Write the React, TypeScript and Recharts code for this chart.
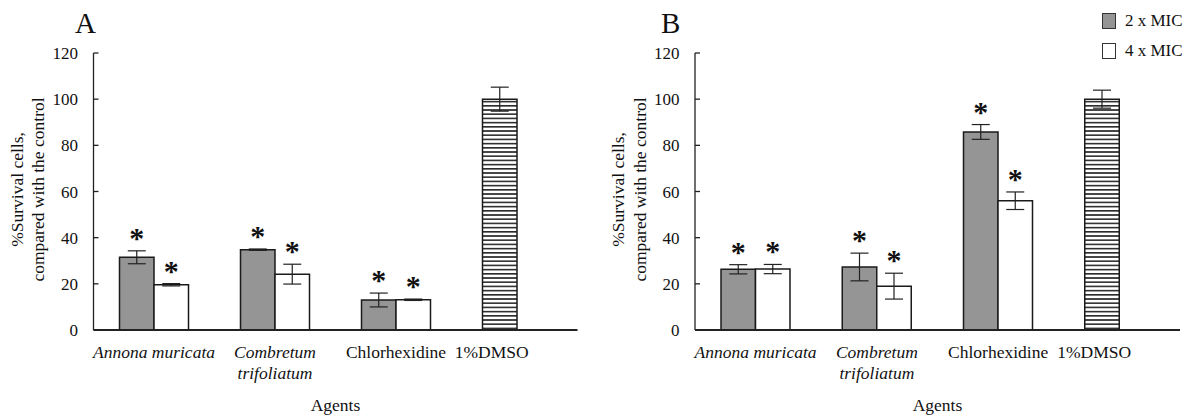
import React from 'react';
import { BarChart, Bar, XAxis, YAxis, ErrorBar, LabelList, Legend, Cell } from 'recharts';

// ---- data ----
const categories = ['Annona muricata', 'Combretum trifoliatum', 'Chlorhexidine', '1%DMSO'];
const tickLabelLines = [['Annona muricata'], ['Combretum', 'trifoliatum'], ['Chlorhexidine'], ['1%DMSO']];
const italicCategories = ['Annona muricata', 'Combretum trifoliatum'];
const yTicks = [0, 20, 40, 60, 80, 100, 120];

const seriesNames = ['2 x MIC', '4 x MIC'];

// Panel A
const aMic2 = [31.5, 34.8, 13.0, 100];
const aMic2Err = [2.8, 0.3, 3.0, 5.2];
const aMic4 = [19.6, 24.2, 13.1, null];
const aMic4Err = [0.5, 4.3, 0.3, null];

// Panel B
const bMic2 = [26.3, 27.3, 85.8, 100];
const bMic2Err = [2.0, 6.0, 3.2, 3.9];
const bMic4 = [26.4, 19.0, 56.0, null];
const bMic4Err = [2.0, 5.6, 3.8, null];

// significance markers
const mic2Sig = [true, true, true, false];
const mic4Sig = [true, true, true, false];

const controlCategory = '1%DMSO';

const FONT = "'Liberation Serif', 'Times New Roman', serif";
const BAR_SIZE = 34.5;

function buildRows(m2: (number | null)[], e2: (number | null)[], m4: (number | null)[], e4: (number | null)[]) {
  return categories.map((c, i) => ({ name: c, mic2: m2[i], mic2Err: e2[i], mic4: m4[i], mic4Err: e4[i] }));
}

const dataA = buildRows(aMic2, aMic2Err, aMic4, aMic4Err);
const dataB = buildRows(bMic2, bMic2Err, bMic4, bMic4Err);

const makeStar = (errs: (number | null)[], sig: boolean[]) => (props: any) => {
  const { x, y, width, height, index, value } = props;
  if (!sig[index] || value == null || !value) return null;
  const pxPerUnit = height / value;
  const errTop = y - (errs[index] || 0) * pxPerUnit;
  const cy = errTop - 18;
  return (
    <text x={x + width / 2} y={cy + 15} textAnchor="middle" fontSize={30} fontWeight="bold" fontFamily={FONT} fill="#111">
      *
    </text>
  );
};

const CategoryTick = (props: any) => {
  const { x, y, payload } = props;
  const lines = tickLabelLines[categories.indexOf(payload.value)] || [payload.value];
  const italic = italicCategories.includes(payload.value);
  // the control has a single bar, its label sits under that bar
  const dx = payload.value === controlCategory ? -(BAR_SIZE / 2 + 8) : 0;
  return (
    <g>
      {lines.map((ln: string, i: number) => (
        <text key={i} x={x + dx} y={y + 28 + i * 21} textAnchor="middle" fontSize={17.5} fontFamily={FONT} fontStyle={italic ? 'italic' : 'normal'} fill="#111">
          {ln}
        </text>
      ))}
    </g>
  );
};

const YLabel = (props: any) => {
  const vb = props.viewBox;
  const axisX = vb.x + vb.width;
  const cy = vb.y + vb.height / 2 - 2;
  const x1 = axisX - 77;
  const x2 = axisX - 55.5;
  return (
    <g>
      <text transform={`rotate(-90, ${x1}, ${cy})`} x={x1} y={cy} textAnchor="middle" dominantBaseline="central" fontSize={17.5} fontFamily={FONT} fill="#111">
        %Survival cells,
      </text>
      <text transform={`rotate(-90, ${x2}, ${cy})`} x={x2} y={cy} textAnchor="middle" dominantBaseline="central" fontSize={17.5} fontFamily={FONT} fill="#111">
        compared with the control
      </text>
    </g>
  );
};

const XLabel = (props: any) => {
  const vb = props.viewBox;
  return (
    <text x={vb.x + vb.width / 2} y={vb.y + 81} textAnchor="middle" fontSize={17.5} fontFamily={FONT} fill="#111">
      Agents
    </text>
  );
};

const LegendContent = (props: any) => {
  const payload = props.payload || [];
  return (
    <div style={{ fontFamily: FONT }}>
      {payload.map((p: any, i: number) => (
        <div key={i} style={{ display: 'flex', alignItems: 'center', height: 30 }}>
          <span style={{ display: 'inline-block', width: 14, height: 16, background: p.color, border: '1px solid #333', boxSizing: 'border-box' }} />
          <span style={{ marginLeft: 9, fontSize: 17, color: '#111', whiteSpace: 'nowrap' }}>{p.value}</span>
        </div>
      ))}
    </div>
  );
};

function Panel({ data, letter, patternId, width, marginLeft, marginRight, letterX, showLegend }: any) {
  const e2 = data.map((d: any) => d.mic2Err);
  const e4 = data.map((d: any) => d.mic4Err);
  return (
    <BarChart
      width={width}
      height={418}
      data={data}
      margin={{ top: 53, right: marginRight, bottom: 0, left: marginLeft }}
      barGap={0}
      barSize={BAR_SIZE}
    >
      <defs>
        <pattern id={patternId} width={6} height={4.2} patternUnits="userSpaceOnUse">
          <rect x={0} y={0} width={6} height={4.2} fill="#ffffff" />
          <rect x={0} y={0} width={6} height={1.6} fill="#2a2a2a" />
        </pattern>
      </defs>
      <text x={letterX} y={33} fontSize={29} fontFamily={FONT} fill="#111">{letter}</text>
      <XAxis
        dataKey="name"
        height={88}
        tickLine={false}
        tickSize={0}
        tickMargin={0}
        interval={0}
        axisLine={{ stroke: '#222', strokeWidth: 1.8 }}
        tick={<CategoryTick />}
        label={(p: any) => <XLabel {...p} />}
      />
      <YAxis
        width={60}
        domain={[0, 120]}
        ticks={yTicks}
        interval={0}
        tickSize={-5}
        tickMargin={20.5}
        axisLine={{ stroke: '#222', strokeWidth: 1.3 }}
        tickLine={{ stroke: '#222', strokeWidth: 1.3 }}
        tick={{ fontSize: 17, fontFamily: FONT, fill: '#111' }}
        label={(p: any) => <YLabel {...p} />}
      />
      {showLegend && (
        <Legend
          layout="vertical"
          align="center"
          verticalAlign="middle"
          content={<LegendContent />}
          wrapperStyle={{ left: 502, top: 6, width: 87, height: 64 }}
        />
      )}
      <Bar dataKey="mic2" name={seriesNames[0]} fill="#959595" stroke="#1a1a1a" strokeWidth={1.5} isAnimationActive={false}>
        {data.map((d: any, i: number) => (
          <Cell key={i} fill={d.name === controlCategory ? `url(#${patternId})` : '#959595'} />
        ))}
        <ErrorBar dataKey="mic2Err" width={9} stroke="#222" strokeWidth={1.2} direction="y" />
        <LabelList dataKey="mic2" content={makeStar(e2, mic2Sig)} />
      </Bar>
      <Bar dataKey="mic4" name={seriesNames[1]} fill="#ffffff" stroke="#1a1a1a" strokeWidth={1.5} isAnimationActive={false}>
        <ErrorBar dataKey="mic4Err" width={9} stroke="#222" strokeWidth={1.2} direction="y" />
        <LabelList dataKey="mic4" content={makeStar(e4, mic4Sig)} />
      </Bar>
    </BarChart>
  );
}

export default function App() {
  return (
    <div style={{ position: 'absolute', left: 0, top: 0, width: 1189, height: 418, background: '#fff' }}>
      <div style={{ position: 'absolute', left: 0, top: 0 }}>
        <Panel data={dataA} letter="A" patternId="hatchA" width={600} marginLeft={33.5} marginRight={22.5} letterX={75} showLegend={false} />
      </div>
      <div style={{ position: 'absolute', left: 600, top: 0 }}>
        <Panel data={dataB} letter="B" patternId="hatchB" width={589} marginLeft={35} marginRight={9} letterX={61} showLegend={true} />
      </div>
    </div>
  );
}
